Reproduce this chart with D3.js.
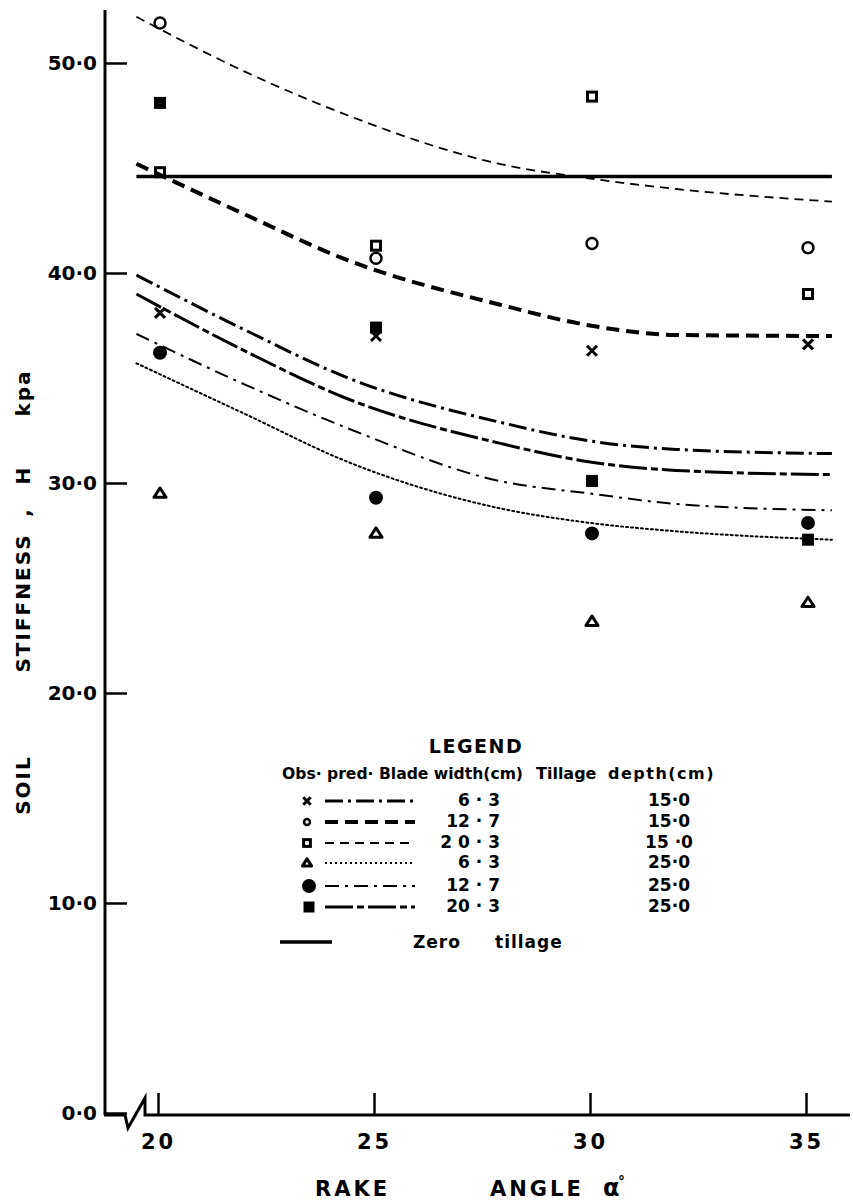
<!DOCTYPE html>
<html>
<head>
<meta charset="utf-8">
<script src="https://cdn.jsdelivr.net/npm/d3@7"></script>
<style>
  body { margin: 0; background: #fff; }
  svg { display: block; }
  text { font-family: "DejaVu Sans", sans-serif; font-weight: bold; fill: #000; }
</style>
</head>
<body>
<div id="graphArea"></div>
<script>
// rake angle (deg) where observations were taken
var obsAngle = [20, 25, 30, 35]
// observed soil stiffness, kPa
var obs63_15 = [38.1, 37.0, 36.3, 36.6]
var obs127_15 = [51.9, 40.7, 41.4, 41.2]
var obs203_15 = [44.8, 41.3, 48.4, 39.0]
var obs63_25 = [29.5, 27.6, 23.4, 24.3]
var obs127_25 = [36.2, 29.3, 27.6, 28.1]
var obs203_25 = [48.1, 37.4, 30.1, 27.3]

// predicted curves
var predAngle = [19.5, 22, 24.4, 27.9, 30, 32, 35.6]
var pred63_15 = [39.9, 37.3, 35.0, 32.9, 32.0, 31.6, 31.4]
var pred127_15 = [45.2, 42.8, 40.6, 38.5, 37.5, 37.05, 37.0]
var pred203_15 = [52.2, 49.6, 47.5, 45.2, 44.5, 44.0, 43.4]
var pred63_25 = [35.7, 33.3, 31.0, 28.8, 28.1, 27.7, 27.3]
var pred127_25 = [37.1, 34.7, 32.6, 30.1, 29.5, 29.0, 28.7]
var pred203_25 = [39.0, 36.3, 34.0, 31.9, 31.0, 30.6, 30.4]
var zeroTillage = [44.6, 44.6]
var zeroAngle = [19.5, 35.6]

var bladeWidth = ["6 · 3", "12 · 7", "2 0 · 3", "6 · 3", "12 · 7", "20 · 3"]
var tillDepth = ["15·0", "15·0", "15 ·0", "25·0", "25·0", "25·0"]
var xTicks = [20, 25, 30, 35]
var yTicks = [0, 10, 20, 30, 40, 50]

var series = [
  { obs: obs63_15, pred: pred63_15, mark: "x", dash: "18,5,3,5", w: 3 },
  { obs: obs127_15, pred: pred127_15, mark: "circle", dash: "13,7", w: 4 },
  { obs: obs203_15, pred: pred203_15, mark: "square", dash: "9,6", w: 1.8 },
  { obs: obs63_25, pred: pred63_25, mark: "triangle", dash: "2,3", w: 2 },
  { obs: obs127_25, pred: pred127_25, mark: "dot", dash: "14,6,3,6", w: 2 },
  { obs: obs203_25, pred: pred203_25, mark: "block", dash: "28,4,7,4", w: 3 }
]

var width = 853, height = 1201

var svg = d3.select("#graphArea").append("svg")
  .attr("width", width)
  .attr("height", height)

var x = d3.scaleLinear().domain([20, 35]).range([158, 806])
var y = d3.scaleLinear().domain([0, 50]).range([1113, 63])
var axisX = 105, baseY = 1115

function fmt(d) { return d3.format(".1f")(d).replace(".", "·") }

// y axis, ticks pointing inwards
var yAxis = svg.append("g")
  .attr("transform", "translate(" + axisX + ",0)")
  .call(d3.axisLeft(y).tickValues(yTicks).tickSizeInner(-22).tickSizeOuter(0).tickPadding(8).tickFormat(fmt))
yAxis.select(".domain").remove()
yAxis.selectAll(".tick line").attr("stroke", "#000").attr("stroke-width", 2.5)
yAxis.selectAll(".tick text").attr("font-size", 20).attr("font-family", "DejaVu Sans").attr("font-weight", "bold")

svg.append("line")
  .attr("x1", axisX).attr("x2", axisX)
  .attr("y1", 10).attr("y2", baseY)
  .attr("stroke", "#000").attr("stroke-width", 3)

// x axis, ticks pointing up
var xAxis = svg.append("g")
  .attr("transform", "translate(0," + baseY + ")")
  .call(d3.axisBottom(x).tickValues(xTicks).tickSizeInner(-22).tickSizeOuter(0).tickPadding(19))
xAxis.select(".domain").remove()
xAxis.selectAll(".tick line").attr("stroke", "#000").attr("stroke-width", 2.5)
xAxis.selectAll(".tick text").attr("font-size", 21).attr("letter-spacing", 3)
  .attr("font-family", "DejaVu Sans").attr("font-weight", "bold")

// baseline with the axis break
svg.append("path")
  .attr("d", "M" + (axisX - 1) + "," + baseY + "H125L128,1128L145,1098V" + baseY + "H850")
  .attr("fill", "none").attr("stroke", "#000").attr("stroke-width", 3)

// axis titles
var yTitle = [["SOIL", 785], ["STIFFNESS", 603], [",", 512], ["H", 475], ["kpa", 393]]
yTitle.forEach(function(t) {
  svg.append("text")
    .attr("transform", "translate(30," + t[1] + ") rotate(-90)")
    .attr("text-anchor", "middle")
    .attr("font-size", 20)
    .attr("letter-spacing", 2)
    .text(t[0])
})
svg.append("text").attr("x", 315).attr("y", 1196).attr("font-size", 21).attr("letter-spacing", 3).text("RAKE")
svg.append("text").attr("x", 490).attr("y", 1196).attr("font-size", 21).attr("letter-spacing", 3).text("ANGLE")
svg.append("text").attr("x", 603).attr("y", 1196).attr("font-size", 24).text("α")
svg.append("text").attr("x", 618).attr("y", 1186).attr("font-size", 14).text("°")

// predicted curves
var line = d3.line()
  .x(function(d) { return x(d[0]) })
  .y(function(d) { return y(d[1]) })
  .curve(d3.curveMonotoneX)

svg.append("path")
  .datum(d3.zip(zeroAngle, zeroTillage))
  .attr("d", line)
  .attr("fill", "none").attr("stroke", "#000").attr("stroke-width", 3.5)

svg.selectAll(".pred")
  .data(series)
  .enter().append("path")
  .attr("class", "pred")
  .attr("d", function(s) { return line(d3.zip(predAngle, s.pred)) })
  .attr("fill", "none")
  .attr("stroke", "#000")
  .attr("stroke-width", function(s) { return s.w })
  .attr("stroke-dasharray", function(s) { return s.dash })
  .attr("stroke-linecap", function(s) { return s.mark == "triangle" ? "round" : "butt" })

// marker drawing
function drawMark(g, kind, cx, cy, big) {
  var k = big ? 1 : 0.75
  if (kind == "x") {
    var r = 5 * k
    g.append("path").attr("d", "M" + (cx - r) + "," + (cy - r) + "L" + (cx + r) + "," + (cy + r) + "M" + (cx + r) + "," + (cy - r) + "L" + (cx - r) + "," + (cy + r))
      .attr("stroke", "#000").attr("stroke-width", 3)
  } else if (kind == "circle") {
    g.append("circle").attr("cx", cx).attr("cy", cy).attr("r", big ? 5.5 : 3)
      .attr("fill", "none").attr("stroke", "#000").attr("stroke-width", 2.5)
  } else if (kind == "square") {
    var s = 9 * k
    g.append("rect").attr("x", cx - s / 2).attr("y", cy - s / 2).attr("width", s).attr("height", s)
      .attr("fill", "none").attr("stroke", "#000").attr("stroke-width", 3)
  } else if (kind == "triangle") {
    var t = 5.5 * k
    g.append("path").attr("d", "M" + cx + "," + (cy - t) + "L" + (cx + t * 1.1) + "," + (cy + t * 0.7) + "L" + (cx - t * 1.1) + "," + (cy + t * 0.7) + "Z")
      .attr("fill", "#fff").attr("stroke", "#000").attr("stroke-width", 3).attr("stroke-linejoin", "round")
  } else if (kind == "dot") {
    g.append("circle").attr("cx", cx).attr("cy", cy).attr("r", 7).attr("fill", "#000")
  } else if (kind == "block") {
    var b = big ? 12 : 11
    g.append("rect").attr("x", cx - b / 2).attr("y", cy - b / 2).attr("width", b).attr("height", b).attr("fill", "#000")
  }
}

var marks = svg.append("g")
series.forEach(function(s) {
  s.obs.forEach(function(v, i) {
    drawMark(marks, s.mark, x(obsAngle[i]) + 2, y(v), true)
  })
})

// legend
var lg = svg.append("g")
lg.append("text").attr("x", 476).attr("y", 753).attr("text-anchor", "middle")
  .attr("font-size", 19).attr("letter-spacing", 1.5).text("LEGEND")
lg.append("text").attr("x", 282).attr("y", 779).attr("font-size", 16)
  .attr("textLength", 241).attr("lengthAdjust", "spacingAndGlyphs").text("Obs· pred· Blade width(cm)")
lg.append("text").attr("x", 536).attr("y", 779).attr("font-size", 16).text("Tillage")
lg.append("text").attr("x", 608).attr("y", 779).attr("font-size", 16)
  .attr("letter-spacing", 1.5).text("depth(cm)")

var rowY = [806, 827, 848, 868, 891, 912]
series.forEach(function(s, i) {
  var ry = rowY[i]
  drawMark(lg, s.mark, s.mark == "dot" || s.mark == "block" ? 309 : 307, ry - 5, false)
  lg.append("line").attr("x1", 325).attr("x2", 415).attr("y1", ry - 5).attr("y2", ry - 5)
    .attr("stroke", "#000").attr("stroke-width", s.w).attr("stroke-dasharray", s.dash)
  lg.append("text").attr("x", 500).attr("y", ry).attr("text-anchor", "end")
    .attr("font-size", 17).text(bladeWidth[i])
  lg.append("text").attr("x", 669).attr("y", ry).attr("text-anchor", "middle")
    .attr("font-size", 17).text(tillDepth[i])
})
lg.append("line").attr("x1", 280).attr("x2", 332).attr("y1", 942).attr("y2", 942)
  .attr("stroke", "#000").attr("stroke-width", 3.5)
lg.append("text").attr("x", 413).attr("y", 948).attr("font-size", 17).attr("letter-spacing", 1).text("Zero")
lg.append("text").attr("x", 495).attr("y", 948).attr("font-size", 17).attr("letter-spacing", 1).text("tillage")
</script>
</body>
</html>
